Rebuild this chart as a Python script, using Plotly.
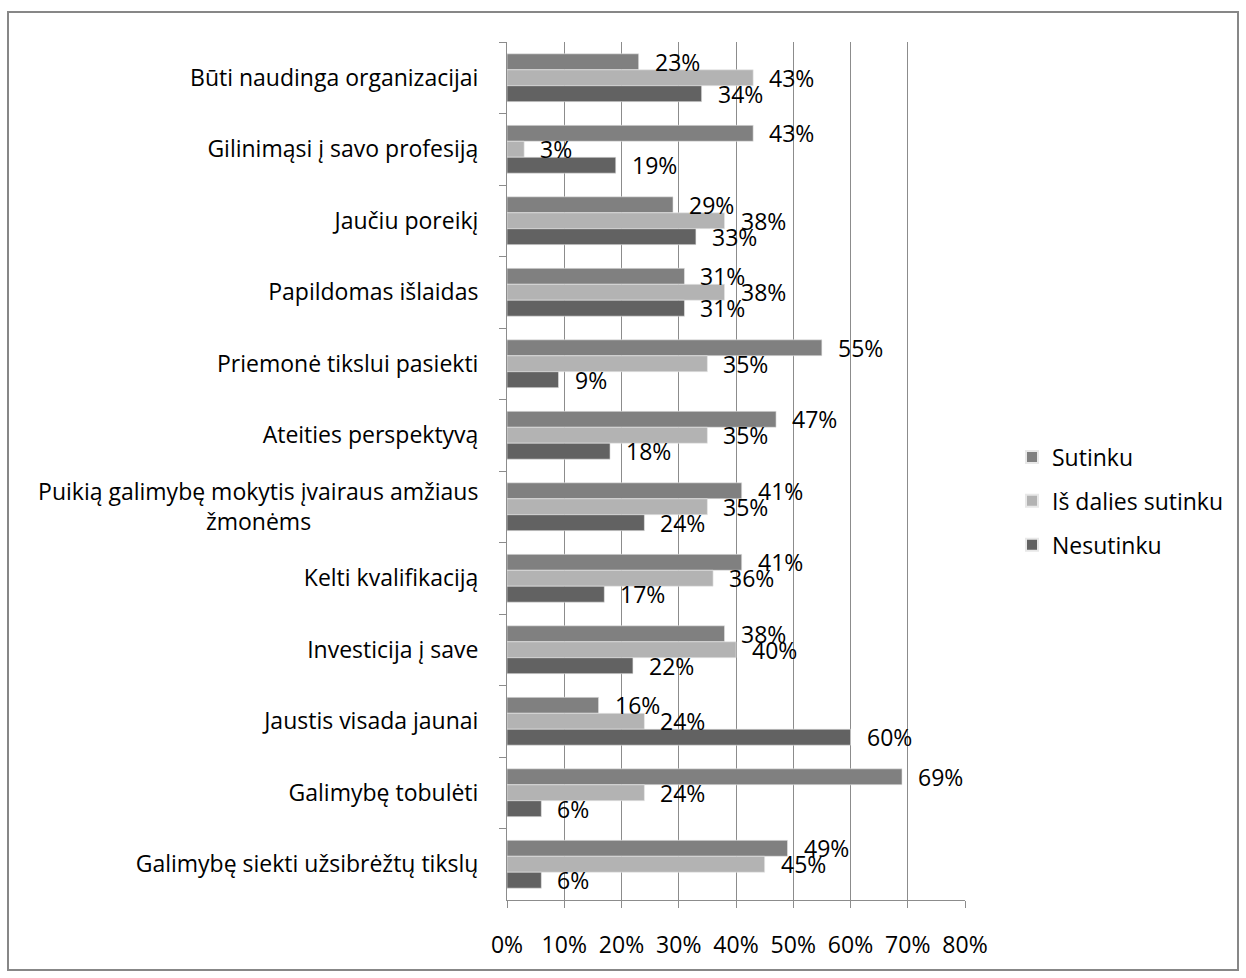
import plotly.graph_objects as go

NB = "\u00a0"
categories = [
    "Būti naudinga organizacijai",
    "Gilinimąsi į savo profesiją",
    "Jaučiu poreikį",
    "Papildomas išlaidas",
    "Priemonė tikslui pasiekti",
    "Ateities perspektyvą",
    "Puikią galimybę mokytis įvairaus amžiaus<br>žmonėms" + NB * 28,
    "Kelti kvalifikaciją",
    "Investicija į save",
    "Jaustis visada jaunai",
    "Galimybę tobulėti",
    "Galimybę siekti užsibrėžtų tikslų",
]
series_names = ["Sutinku", "Iš dalies sutinku", "Nesutinku"]
sutinku = [0.23, 0.43, 0.29, 0.31, 0.55, 0.47, 0.41, 0.41, 0.38, 0.16, 0.69, 0.49]
is_dalies = [0.43, 0.03, 0.38, 0.38, 0.35, 0.35, 0.35, 0.36, 0.40, 0.24, 0.24, 0.45]
nesutinku = [0.34, 0.19, 0.33, 0.31, 0.09, 0.18, 0.24, 0.17, 0.22, 0.60, 0.06, 0.06]
colors = ["#808080", "#b3b3b3", "#626262"]
x_ticks = [0, 0.1, 0.2, 0.3, 0.4, 0.5, 0.6, 0.7, 0.8]

W, H = 1246, 978
ML, MR, MT, MB = 507, 281, 42, 78
BARGAP = 0.33
FONT = "Open Sans"
FS = 23

fig = go.Figure()
all_series = [sutinku, is_dalies, nesutinku]
for i, (name, vals, col) in enumerate(zip(series_names, all_series, colors)):
    fig.add_trace(go.Bar(
        name=name, y=categories, x=vals, orientation="h",
        marker=dict(color=col, line=dict(width=0.6, color="#e8e8e8")),
        legendgroup=f"g{i}",
    ))

plot_h = H - MT - MB
plot_w = W - ML - MR
pitch = plot_h / len(categories) * (1 - BARGAP) / 3
shifts = [pitch, 0, -pitch]
for vals, ys in zip(all_series, shifts):
    for cat, v in zip(categories, vals):
        fig.add_annotation(
            x=v, y=cat, text=f"{round(v*100)}%", showarrow=False,
            xanchor="left", yanchor="middle", xshift=14, yshift=ys,
            font=dict(family=FONT, size=FS, color="#000"),
        )

fig.add_shape(type="rect", xref="paper", yref="paper",
              x0=(8 - ML) / plot_w, x1=(1238 - ML) / plot_w,
              y0=(H - MB - 970) / plot_h, y1=(H - MB - 12) / plot_h,
              line=dict(color="#878787", width=2), fillcolor="rgba(0,0,0,0)", layer="below")

fig.update_layout(
    width=W, height=H,
    margin=dict(l=ML, r=MR, t=MT, b=MB),
    paper_bgcolor="white", plot_bgcolor="white",
    barmode="group", bargap=BARGAP, bargroupgap=0,
    font=dict(family=FONT, size=FS, color="#000"),
    showlegend=True,
    legend=dict(x=(1012 - ML) / plot_w, y=(H - MB - 501) / plot_h,
                xanchor="left", yanchor="middle", traceorder="grouped",
                font=dict(family=FONT, size=FS), itemsizing="constant",
                tracegroupgap=11, bgcolor="rgba(0,0,0,0)"),
)
fig.update_xaxes(
    range=[0, 0.8], tickvals=x_ticks, tickformat=".0%",
    showgrid=True, gridcolor="#8c8c8c", gridwidth=1,
    showline=True, linecolor="#8c8c8c", linewidth=1,
    ticks="outside", ticklen=7, tickcolor="#8c8c8c",
    ticklabelstandoff=17, zeroline=False,
)
fig.update_yaxes(
    type="category", autorange="reversed", tickson="boundaries",
    showline=True, linecolor="#8c8c8c", linewidth=1,
    ticks="outside", ticklen=7, tickcolor="#8c8c8c",
    ticklabelstandoff=23, showgrid=False,
)
fig.write_html("out.html")
